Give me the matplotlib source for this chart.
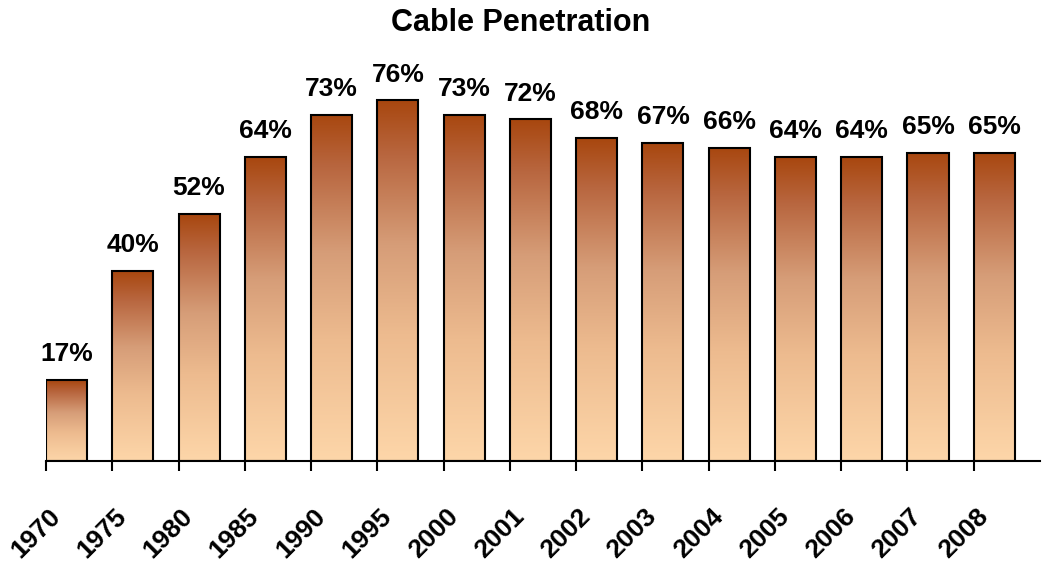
import numpy as np
import matplotlib
matplotlib.use("Agg")
import matplotlib.pyplot as plt
from matplotlib.colors import LinearSegmentedColormap
from matplotlib.patches import Rectangle

years = ["1970", "1975", "1980", "1985", "1990", "1995", "2000", "2001",
         "2002", "2003", "2004", "2005", "2006", "2007", "2008"]
penetration = [17, 40, 52, 64, 73, 76, 73, 72, 68, 67, 66, 64, 64, 65, 65]

plt.rcParams["font.family"] = ["Liberation Sans", "DejaVu Sans"]

fig = plt.figure(figsize=(10.42, 5.62), dpi=100)
ax = fig.add_axes([46 / 1042, 101 / 562, 994 / 1042, 427 / 562])

cmap = LinearSegmentedColormap.from_list(
    "cable", [(0.0, "#FDD6A9"), (0.35, "#EDBB8F"), (0.6, "#D69D78"),
              (0.85, "#B8663F"), (1.0, "#A8470F")])
grad = np.linspace(0, 1, 256).reshape(-1, 1)

width = 0.62
for i, v in enumerate(penetration):
    im = ax.imshow(grad, cmap=cmap, origin="lower", aspect="auto",
                   extent=(i, i + width, 0, v), zorder=2)
    rect = Rectangle((i, 0), width, v, facecolor="none", edgecolor="black",
                     linewidth=1.5, zorder=3)
    ax.add_patch(rect)
    im.set_clip_path(rect)
    ax.annotate(f"{v}%", (i + width / 2, v), xytext=(0, 10),
                textcoords="offset points", ha="center", va="bottom",
                fontsize=19, fontweight="bold")

ax.set_xlim(0, 15)
ax.set_ylim(0, 90)

for s in ["top", "right", "left"]:
    ax.spines[s].set_visible(False)
ax.spines["bottom"].set_linewidth(1.5)
ax.set_yticks([])
ax.set_xticks(np.arange(0, 15))
ax.set_xticklabels([])
ax.tick_params(axis="x", direction="out", length=7, width=1.5)

for i, y in enumerate(years):
    ax.text(i + 0.03, -0.1, y, transform=ax.get_xaxis_transform(),
            rotation=45, rotation_mode="anchor", ha="right", va="top",
            fontsize=19, fontweight="bold")

fig.text(0.5, 0.985, "Cable Penetration", ha="center", va="top",
         fontsize=22, fontweight="bold")

fig.savefig("out.png", dpi=100)
